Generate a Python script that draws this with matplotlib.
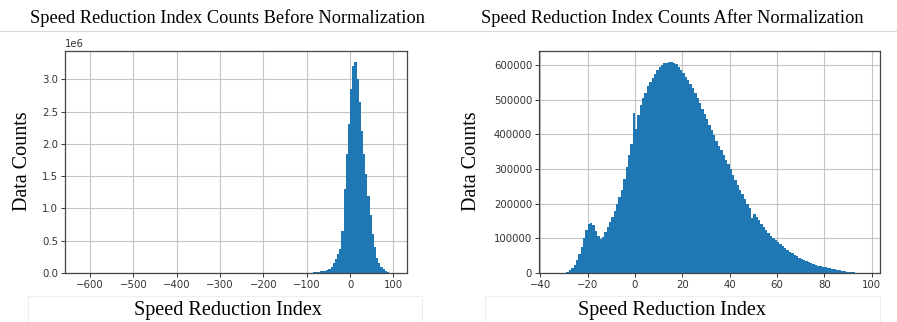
import matplotlib
matplotlib.use("Agg")
import matplotlib.pyplot as plt
from matplotlib.lines import Line2D
from matplotlib.patches import Rectangle
import numpy as np

# histogram before normalization: one far outlier bin, an empty gap, then 5-wide bins
before_edges = [-622, -617] + list(range(-85, 96, 5))
before_counts = [1, 0,
                 10000, 15000, 20000, 25000, 30000, 35000, 45000, 65000, 95000,
                 150000, 220000, 290000, 370000, 650000, 1300000, 1850000, 2300000,
                 2850000, 3200000, 3270000, 3000000, 2650000, 2200000, 1850000,
                 1530000, 1200000, 900000, 600000, 400000, 240000, 150000, 95000,
                 60000, 30000, 12000, 3000]

# histogram after normalization: 1-wide bins from -34 to 97
after_edges = list(range(-34, 98))
after_counts = [
    0, 0, 0, 0, 500, 3000, 8000, 14000, 22000, 37000,            # -34 .. -25
    55000, 75000, 100000, 125000, 140000, 145000, 138000, 122000,  # -24 .. -17
    108000, 99000, 105000, 118000, 133000, 147000, 162000, 180000,  # -16 .. -9
    198000, 218000, 240000, 270000, 305000, 340000, 372000, 460000,  # -8 .. -1
    415000, 455000, 485000, 505000, 520000, 538000, 552000, 563000,  # 0 .. 7
    575000, 586000, 594000, 600000, 604000, 606000, 607000, 609000,  # 8 .. 15
    606000, 602000, 595000, 586000, 576000, 566000, 556000, 544000,  # 16 .. 23
    532000, 519000, 504000, 489000, 473000, 459000, 443000, 428000,  # 24 .. 31
    413000, 397000, 381000, 367000, 354000, 340000, 326000, 313000,  # 32 .. 39
    300000, 284000, 268000, 254000, 240000, 227000, 214000, 198000,  # 40 .. 47
    188000, 160000, 170000, 161000, 152000, 142000, 133000, 124000,  # 48 .. 55
    115000, 108000, 101000, 95000, 89000, 83000, 77000, 71000,       # 56 .. 63
    66000, 61000, 57000, 53000, 48000, 44000, 40000, 37000,          # 64 .. 71
    34000, 31000, 28000, 25000, 23000, 21000, 19500, 18000,          # 72 .. 79
    17000, 15000, 13500, 12000, 10500, 9000, 7500, 6000,             # 80 .. 87
    5000, 4000, 3000, 2500, 2000, 1000, 300, 100, 50,                # 88 .. 96
]

titles = ["Speed Reduction Index Counts Before Normalization",
          "Speed Reduction Index Counts After Normalization"]
xlabel = "Speed Reduction Index"
ylabel = "Data Counts"

serif = ["Liberation Serif", "DejaVu Serif"]
bar_color = "#1f77b4"

fig = plt.figure(figsize=(8.97, 3.22), dpi=100)
ax1 = fig.add_axes([0.0725, 0.152, 0.381, 0.689])
ax2 = fig.add_axes([0.601, 0.152, 0.380, 0.689])

for ax, edges, counts in [(ax1, before_edges, before_counts),
                          (ax2, after_edges, after_counts)]:
    edges = np.array(edges, dtype=float)
    centers = (edges[:-1] + edges[1:]) / 2
    ax.hist(centers, bins=edges, weights=counts, color=bar_color,
            histtype="stepfilled", linewidth=0)
    ax.set_axisbelow(True)
    ax.grid(True, color="#c4c4c4", linewidth=0.8)
    ax.tick_params(labelsize=7.3, labelcolor="#333333", length=3, width=0.7,
                   color="#333333", pad=2)
    for s in ax.spines.values():
        s.set_color("#444444")
        s.set_linewidth(0.9)

ax1.yaxis.get_offset_text().set_fontsize(7.3)
ax1.yaxis.get_offset_text().set_color("#333333")

# titles, axis labels and the faint text-box frames around them
for cx, title in zip([0.254, 0.749], titles):
    fig.text(cx, 0.944, title, ha="center", va="center", fontsize=13.2,
             family=serif)
    fig.text(cx, 0.037, xlabel, ha="center", va="center", fontsize=14.5,
             family=serif)

fig.text(0.025, 0.50, ylabel, rotation=90, ha="center", va="center",
         fontsize=14.5, family=serif)
fig.text(0.526, 0.50, ylabel, rotation=90, ha="center", va="center",
         fontsize=14.5, family=serif)

fig.add_artist(Line2D([0.0, 0.5], [0.905, 0.905], color="#d8d8d8", lw=0.8))
fig.add_artist(Line2D([0.05, 1.0], [0.905, 0.905], color="#d8d8d8", lw=0.8))
fig.add_artist(Rectangle((0.031, 0.0), 0.44, 0.08, fill=False,
                         edgecolor="#eeeeee", lw=0.8))
fig.add_artist(Rectangle((0.541, 0.0), 0.44, 0.08, fill=False,
                         edgecolor="#eeeeee", lw=0.8))

fig.savefig("out.png", dpi=100)
